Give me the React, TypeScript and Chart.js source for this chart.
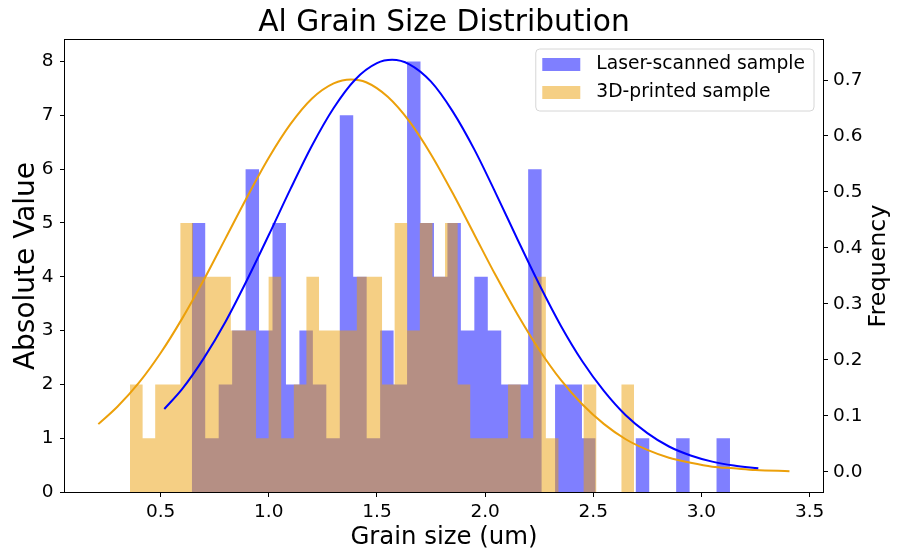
import { useEffect, useRef } from 'react';
import { Chart, registerables } from 'chart.js';

Chart.register(...registerables);

const FONT = 'DejaVu Sans';

// Histogram counts (40 bins each)
const laserCounts = [5, 1, 2, 3, 6, 3, 5, 2, 3, 2, 1, 7, 4, 1, 3, 2, 8, 5, 4, 5, 3, 4, 3, 2, 2, 6, 0, 2, 2, 1, 0, 0, 0, 1, 0, 0, 1, 0, 0, 1];
const printedCounts = [2, 1, 2, 2, 5, 4, 4, 4, 3, 3, 1, 4, 1, 2, 4, 3, 3, 3, 4, 4, 2, 5, 3, 5, 4, 5, 2, 1, 1, 1, 2, 1, 4, 1, 0, 0, 2, 0, 0, 2];
// Histogram ranges (min grain size, max grain size)
const laserRange = [0.644, 3.132];
const printedRange = [0.3585, 2.6886];

// Fitted frequency curves
const laserCurveX = [0.517, 0.6, 0.7, 0.8, 0.9, 1.0, 1.1, 1.2, 1.3, 1.4, 1.5, 1.57, 1.65, 1.75, 1.85, 1.95, 2.05, 2.15, 2.25, 2.35, 2.45, 2.55, 2.65, 2.75, 2.85, 2.95, 3.05, 3.15, 3.263];
const laserCurveY = [0.112, 0.148, 0.203, 0.268, 0.343, 0.423, 0.505, 0.583, 0.650, 0.701, 0.730, 0.736, 0.728, 0.697, 0.644, 0.576, 0.497, 0.415, 0.335, 0.261, 0.197, 0.144, 0.101, 0.069, 0.045, 0.029, 0.018, 0.011, 0.006];
const printedCurveX = [0.212, 0.3, 0.4, 0.5, 0.6, 0.7, 0.8, 0.9, 1.0, 1.1, 1.2, 1.3, 1.38, 1.45, 1.55, 1.65, 1.75, 1.85, 1.95, 2.05, 2.15, 2.25, 2.35, 2.45, 2.55, 2.65, 2.75, 2.85, 2.95, 3.05, 3.15, 3.25, 3.407];
const printedCurveY = [0.085, 0.116, 0.159, 0.212, 0.274, 0.343, 0.417, 0.491, 0.561, 0.621, 0.667, 0.694, 0.701, 0.696, 0.670, 0.626, 0.567, 0.498, 0.424, 0.350, 0.281, 0.218, 0.164, 0.120, 0.085, 0.058, 0.039, 0.025, 0.016, 0.009, 0.006, 0.003, 0.001];

const seriesLabels = ['Laser-scanned sample', '3D-printed sample'];

const X_MIN = 0.058;
const X_MAX = 3.562;
const Y_MAX = 8.4;
const F_MIN = -0.0363;
const F_MAX = 0.7715;

const BLUE = 'rgb(0,0,255)';
const BLUE_A = 'rgba(0,0,255,0.5)';
const ORANGE = 'rgb(236,160,10)';
const ORANGE_A = 'rgba(236,160,10,0.5)';

// histogram as step outline: one point per bin's left edge plus the closing right edge
function histPoints(counts: number[], range: number[]) {
  const n = counts.length;
  const w = (range[1] - range[0]) / n;
  const pts = counts.map((c, i) => ({ x: range[0] + w * i, y: c }));
  pts.push({ x: range[1], y: counts[n - 1] });
  return pts;
}

const decorPlugin = {
  id: 'decor',
  afterDraw(chart: any) {
    const { ctx, chartArea: a } = chart;
    ctx.save();
    // axes frame
    const l = Math.round(a.left), t = Math.round(a.top), r = Math.round(a.right), b = Math.round(a.bottom);
    ctx.strokeStyle = '#000';
    ctx.lineWidth = 1;
    ctx.strokeRect(l - 0.5, t - 0.5, r - l + 1, b - t + 1);

    // right axis label, rotated like matplotlib
    ctx.save();
    ctx.translate(a.right + 55.5, (a.top + a.bottom) / 2);
    ctx.rotate(-Math.PI / 2);
    ctx.font = `23.8px "${FONT}"`;
    ctx.fillStyle = '#000';
    ctx.textAlign = 'center';
    ctx.textBaseline = 'middle';
    ctx.fillText('Frequency', 0, 0);
    ctx.restore();

    // legend
    const items = chart.data.datasets.filter((d: any) => seriesLabels.includes(d.label));
    ctx.font = `18.7px "${FONT}"`;
    const textW = Math.max(...items.map((d: any) => ctx.measureText(d.label).width));
    const padL = 6.5, sw = 38, sh = 13, gap = 16, padR = 9, rowH = 28, firstRow = 15.5, h = 62, rad = 4;
    const w = padL + sw + gap + textW + padR;
    const right = a.right - 9;
    const top = a.top + 9;
    const left = right - w;
    ctx.beginPath();
    ctx.moveTo(left + rad, top);
    ctx.lineTo(left + w - rad, top);
    ctx.arcTo(left + w, top, left + w, top + rad, rad);
    ctx.lineTo(left + w, top + h - rad);
    ctx.arcTo(left + w, top + h, left + w - rad, top + h, rad);
    ctx.lineTo(left + rad, top + h);
    ctx.arcTo(left, top + h, left, top + h - rad, rad);
    ctx.lineTo(left, top + rad);
    ctx.arcTo(left, top, left + rad, top, rad);
    ctx.closePath();
    ctx.fillStyle = 'rgba(255,255,255,0.8)';
    ctx.fill();
    ctx.strokeStyle = '#d6d6d6';
    ctx.lineWidth = 1;
    ctx.stroke();
    items.forEach((d: any, i: number) => {
      const cy = top + firstRow + i * rowH;
      ctx.fillStyle = d.backgroundColor;
      ctx.fillRect(left + padL, cy - sh / 2, sw, sh);
      ctx.fillStyle = '#000';
      ctx.textAlign = 'left';
      ctx.textBaseline = 'middle';
      ctx.fillText(d.label, left + padL + sw + gap, cy);
    });
    ctx.restore();
  },
};

export default function App() {
  const ref = useRef<HTMLCanvasElement>(null);

  useEffect(() => {
    document.body.style.margin = '0';
    document.body.style.overflow = 'hidden';
    Chart.defaults.font.family = FONT;
    Chart.defaults.color = '#000';

    const tickFont = { family: FONT, size: 18.5 };

    const chart = new Chart(ref.current as HTMLCanvasElement, {
      type: 'line',
      data: {
        datasets: [
          {
            label: seriesLabels[0],
            data: histPoints(laserCounts, laserRange),
            xAxisID: 'x',
            yAxisID: 'y',
            stepped: 'before',
            fill: 'origin',
            backgroundColor: BLUE_A,
            borderColor: 'rgba(0,0,0,0)',
            borderWidth: 0,
            pointRadius: 0,
            order: 2,
          },
          {
            label: seriesLabels[1],
            data: histPoints(printedCounts, printedRange),
            xAxisID: 'x',
            yAxisID: 'y',
            stepped: 'before',
            fill: 'origin',
            backgroundColor: ORANGE_A,
            borderColor: 'rgba(0,0,0,0)',
            borderWidth: 0,
            pointRadius: 0,
            order: 1,
          },
          {
            label: seriesLabels[0] + ' fit',
            data: laserCurveX.map((x, i) => ({ x, y: laserCurveY[i] })),
            xAxisID: 'x',
            yAxisID: 'y2',
            borderColor: BLUE,
            borderWidth: 2,
            pointRadius: 0,
            fill: false,
            cubicInterpolationMode: 'monotone',
            order: 0,
          },
          {
            label: seriesLabels[1] + ' fit',
            data: printedCurveX.map((x, i) => ({ x, y: printedCurveY[i] })),
            xAxisID: 'x',
            yAxisID: 'y2',
            borderColor: ORANGE,
            borderWidth: 2,
            pointRadius: 0,
            fill: false,
            cubicInterpolationMode: 'monotone',
            order: 0,
          },
        ],
      } as any,
      options: {
        responsive: false,
        animation: false,
        events: [],
        layout: { padding: { left: 0, right: 10, top: 0, bottom: 0 } },
        plugins: {
          legend: { display: false },
          tooltip: { enabled: false },
          title: {
            display: true,
            text: 'Al Grain Size Distribution',
            color: '#000',
            font: { family: FONT, size: 29.7, weight: 'normal', lineHeight: 1.1 },
            padding: { top: 7, bottom: 0.33 },
          },
        },
        scales: {
          x: {
            type: 'linear',
            position: 'bottom',
            min: X_MIN,
            max: X_MAX,
            offset: false,
            grid: { offset: false, drawOnChartArea: false, drawTicks: true, tickLength: 5, tickColor: '#000', tickWidth: 1 },
            border: { display: false },
            ticks: {
              stepSize: 0.5,
              includeBounds: false,
              autoSkip: false,
              maxRotation: 0,
              padding: 4,
              color: '#000',
              font: tickFont,
              callback: (v: any) => Number(v).toFixed(1),
            },
            title: {
              display: true,
              text: 'Grain size (um)',
              color: '#000',
              font: { family: FONT, size: 24.4, lineHeight: 1.2 },
              padding: { top: 0, bottom: 3.3 },
            },
            afterFit: (s: any) => { s.height = 64; },
          },
          y: {
            type: 'linear',
            position: 'left',
            min: 0,
            max: Y_MAX,
            grid: { drawOnChartArea: false, drawTicks: true, tickLength: 5, tickColor: '#000', tickWidth: 1 },
            border: { display: false },
            ticks: {
              stepSize: 1,
              includeBounds: false,
              padding: 6.5,
              color: '#000',
              font: tickFont,
              callback: (v: any) => String(Math.round(Number(v))),
            },
            title: {
              display: true,
              text: 'Absolute Value',
              color: '#000',
              font: { family: FONT, size: 28, lineHeight: 1.2 },
              padding: { top: 9.7, bottom: 0 },
            },
            afterFit: (s: any) => { s.width = 65; },
          },
          y2: {
            type: 'linear',
            position: 'right',
            min: F_MIN,
            max: F_MAX,
            grid: { drawOnChartArea: false, drawTicks: true, tickLength: 5, tickColor: '#000', tickWidth: 1 },
            border: { display: false },
            ticks: {
              stepSize: 0.1,
              includeBounds: false,
              padding: 5,
              color: '#000',
              font: tickFont,
              callback: (v: any) => Number(v).toFixed(1),
            },
            title: { display: false },
            afterFit: (s: any) => { s.width = 65; },
          },
        },
      } as any,
      plugins: [decorPlugin],
    });

    return () => chart.destroy();
  }, []);

  return (
    <div style={{ width: 898, height: 556 }}>
      <canvas ref={ref} width={898} height={556} style={{ display: 'block' }} />
    </div>
  );
}
